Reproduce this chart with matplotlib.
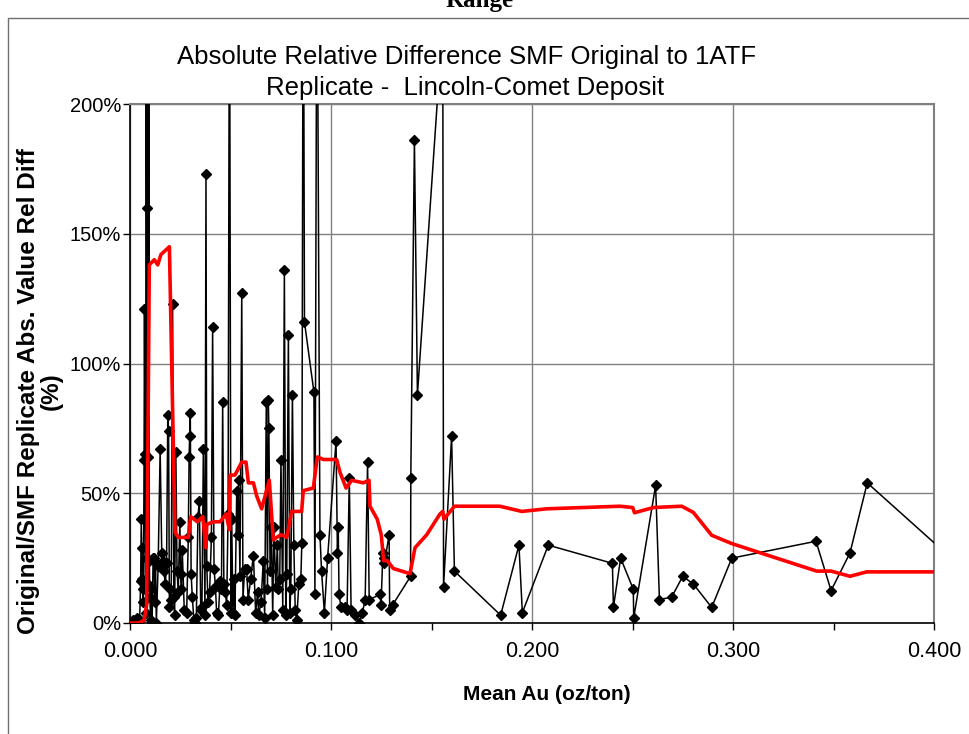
import matplotlib.pyplot as plt
from matplotlib.patches import Rectangle
from matplotlib.ticker import FuncFormatter, MultipleLocator

# mean Au (oz/ton) and abs. relative difference (%) for each replicate pair
mean_au = [
    0.0000, 0.0008, 0.0015, 0.0022, 0.0030, 0.0036, 0.0042, 0.0048, 0.0053, 0.0056,
    0.0059, 0.0062, 0.0064, 0.0067, 0.0070, 0.0072, 0.0075, 0.0078, 0.0080, 0.0083,
    0.0085, 0.0087, 0.0089, 0.0091, 0.0093, 0.0096, 0.0099, 0.0102, 0.0106, 0.0110,
    0.0115, 0.0120, 0.0123, 0.0127, 0.0131, 0.0140, 0.0150, 0.0158, 0.0162, 0.0168,
    0.0176, 0.0182, 0.0188, 0.0192, 0.0196, 0.0200, 0.0205, 0.0212, 0.0218, 0.0222,
    0.0228, 0.0234, 0.0240, 0.0248, 0.0252, 0.0256, 0.0260, 0.0270, 0.0282, 0.0290,
    0.0294, 0.0297, 0.0300, 0.0304, 0.0310, 0.0318, 0.0325, 0.0330, 0.0338, 0.0345,
    0.0352, 0.0358, 0.0365, 0.0373, 0.0378, 0.0382, 0.0388, 0.0396, 0.0405, 0.0411,
    0.0418, 0.0425, 0.0431, 0.0440, 0.0448, 0.0455, 0.0461, 0.0467, 0.0474, 0.0481,
    0.0488, 0.0495, 0.0502, 0.0506, 0.0512, 0.0518, 0.0522, 0.0531, 0.0536, 0.0540,
    0.0547, 0.0556, 0.0562, 0.0570, 0.0580, 0.0588, 0.0600, 0.0614, 0.0625, 0.0635,
    0.0640, 0.0652, 0.0663, 0.0670, 0.0678, 0.0684, 0.0688, 0.0691, 0.0697, 0.0703,
    0.0710, 0.0716, 0.0725, 0.0733, 0.0738, 0.0745, 0.0751, 0.0760, 0.0768, 0.0775,
    0.0780, 0.0788, 0.0795, 0.0800, 0.0808, 0.0815, 0.0822, 0.0829, 0.0840, 0.0850,
    0.0855, 0.0862, 0.0868, 0.0915, 0.0920, 0.0930, 0.0945, 0.0953, 0.0967, 0.0983,
    0.1025, 0.1032, 0.1036, 0.1040, 0.1050, 0.1070, 0.1080, 0.1091, 0.1100, 0.1120,
    0.1140, 0.1156, 0.1170, 0.1182, 0.1190, 0.1244, 0.1249, 0.1258, 0.1262, 0.1266,
    0.1289, 0.1292, 0.1307, 0.1396, 0.1397, 0.1415, 0.1430, 0.1556, 0.1560, 0.1600,
    0.1614, 0.1844, 0.1935, 0.1952, 0.2081, 0.2400, 0.2405, 0.2441, 0.2504, 0.2506,
    0.2615, 0.2634, 0.2695, 0.2750, 0.2803, 0.2894, 0.2994, 0.3413, 0.3488, 0.3582,
    0.3668, 0.4100,
]
rel_diff = [
    0, 0, 1, 0, 0, 2, 0, 1, 16, 40,
    29, 17, 8, 13, 63, 121, 65, 4, 260, 160,
    25, 320, 64, 15, 280, 24, 10, 1, 13, 0,
    25, 25, 8, 23, 0, 22, 67, 27, 24, 20,
    15, 23, 80, 74, 6, 13, 9, 123, 10, 3,
    66, 20, 12, 39, 19, 13, 28, 5, 4, 33,
    64, 72, 81, 19, 10, 1, 0, 2, 41, 47,
    5, 6, 67, 3, 173, 22, 8, 12, 33, 114,
    21, 14, 4, 3, 16, 13, 85, 15, 12, 7,
    42, 270, 4, 40, 4, 17, 3, 51, 34, 55,
    18, 127, 9, 21, 21, 9, 17, 26, 4, 12,
    3, 8, 24, 2, 85, 13, 86, 75, 20, 37,
    3, 37, 14, 30, 13, 17, 63, 5, 136, 3,
    19, 111, 4, 13, 88, 30, 5, 1, 15, 17,
    31, 290, 116, 89, 11, 280, 34, 20, 4, 25,
    70, 27, 37, 11, 6, 6, 5, 56, 5, 3,
    0, 4, 9, 62, 9, 11, 7, 27, 25, 23,
    34, 5, 7, 18, 56, 186, 88, 232, 14, 72,
    20, 3, 30, 4, 30, 23, 6, 25, 13, 2,
    53, 9, 10, 18, 15, 6, 25, 31.5, 12.5, 27,
    54, 24,
]

# moving average of the relative difference
avg_au = [
    0.0000, 0.0041, 0.0070, 0.0083, 0.0096, 0.0121, 0.0138, 0.0154, 0.0196, 0.0224,
    0.0240, 0.0290, 0.0302, 0.0335, 0.0362, 0.0378, 0.0382, 0.0415, 0.0448, 0.0478,
    0.0494, 0.0498, 0.0522, 0.0556, 0.0577, 0.0589, 0.0614, 0.0630, 0.0655, 0.0693,
    0.0713, 0.0730, 0.0751, 0.0780, 0.0804, 0.0854, 0.0862, 0.0912, 0.0932, 0.0962,
    0.1028, 0.1045, 0.1075, 0.1103, 0.1161, 0.1189, 0.1194, 0.1230, 0.1250, 0.1262,
    0.1280, 0.1310, 0.1393, 0.1418, 0.1476, 0.1542, 0.1556, 0.1562, 0.1614, 0.1840,
    0.1949, 0.2073, 0.2438, 0.2501, 0.2510, 0.2604, 0.2745, 0.2803, 0.2894, 0.2994,
    0.3416, 0.3488, 0.3582, 0.3665, 0.4000,
]
avg_diff = [
    0, 0, 1, 7, 138, 140, 138, 142, 145, 35,
    33, 33, 41, 39, 41, 29, 38, 39, 39, 42,
    36, 57, 57, 62, 62, 54, 54, 49, 44, 55,
    32, 33, 34, 33, 43, 43, 51, 52, 64, 63,
    63, 58, 52, 55, 54, 55, 45, 40, 34, 24,
    24, 21, 19, 29, 34, 42, 43, 40, 45, 45,
    43, 44, 45, 44.5, 42.5, 44.5, 45, 42.6, 33.8, 30.6,
    20, 20, 18, 19.7, 19.7,
]

x_ticks = [0.0, 0.1, 0.2, 0.3, 0.4]
y_ticks = [0, 50, 100, 150, 200]

plt.rcParams["font.family"] = ["Liberation Sans", "DejaVu Sans"]

fig = plt.figure(figsize=(9.69, 7.34), dpi=100)
ax = fig.add_axes([130 / 969, 1 - 623 / 734, 804 / 969, 519 / 734])

# chart frame (partly cut off in the source)
fig.patches.append(Rectangle((8 / 969, -0.05), 1.2, 1 - 18 / 734 + 0.05,
                             transform=fig.transFigure, fill=False,
                             edgecolor="#707070", linewidth=1.0))
fig.text(0.495, 1 - 7 / 734, "Range", ha="center", va="baseline",
         fontsize=18, fontweight="bold", family="Liberation Serif")

ax.plot(mean_au, rel_diff, color="black", linewidth=1.1, marker="D",
        markersize=5.5, zorder=3)
ax.plot(avg_au, avg_diff, color="#ff0000", linewidth=2.6, zorder=4)

ax.set_xlim(0, 0.4)
ax.set_ylim(0, 200)
ax.set_xticks(x_ticks)
ax.xaxis.set_minor_locator(MultipleLocator(0.05))
ax.set_yticks(y_ticks)
ax.xaxis.set_major_formatter(FuncFormatter(lambda v, p: f"{v:.3f}"))
ax.yaxis.set_major_formatter(FuncFormatter(lambda v, p: f"{v:.0f}%"))
ax.tick_params(axis="both", which="both", direction="out", length=5,
               width=1, color="black")
ax.tick_params(axis="x", labelsize=15.5, pad=8)
ax.tick_params(axis="y", labelsize=14.5, pad=1.5)
ax.grid(True, which="major", color="#808080", linewidth=1)
ax.set_axisbelow(True)

for side in ["top", "right"]:
    ax.spines[side].set_color("#808080")
    ax.spines[side].set_linewidth(1.5)
for side in ["left", "bottom"]:
    ax.spines[side].set_color("black")
    ax.spines[side].set_linewidth(1.2)

fig.text(467 / 969, 1 - 57 / 734, "Absolute Relative Difference SMF Original to 1ATF",
         ha="center", va="center", fontsize=18.5)
fig.text(465 / 969, 1 - 88 / 734, "Replicate -  Lincoln-Comet Deposit",
         ha="center", va="center", fontsize=18.5)

fig.text(547 / 969, 1 - 695 / 734, "Mean Au (oz/ton)", ha="center", va="center",
         fontsize=15, fontweight="bold")
fig.text(40 / 969, 1 - 391 / 734, "Original/SMF Replicate Abs. Value Rel Diff\n(%)",
         rotation=90, ha="center", va="center", fontsize=17.5,
         fontweight="bold", linespacing=0.95, multialignment="center")

plt.savefig("out.png", dpi=100)
plt.close()
